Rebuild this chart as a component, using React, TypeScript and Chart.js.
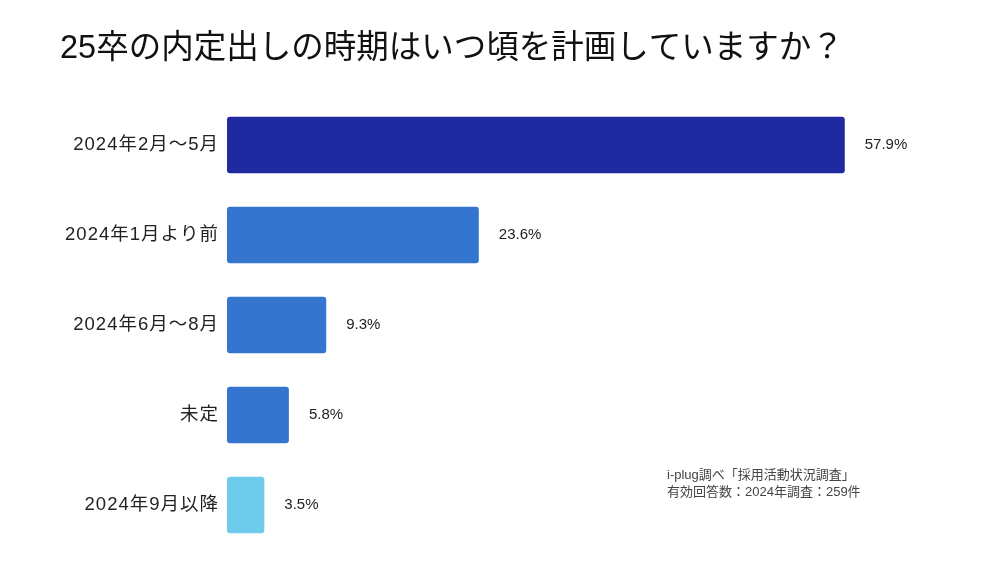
import React, { useEffect, useRef } from "react";
import { Chart, registerables } from "chart.js";

Chart.register(...registerables);

const titleText = "25卒の内定出しの時期はいつ頃を計画していますか？";
const categories = ["2024年2月～5月", "2024年1月より前", "2024年6月～8月", "未定", "2024年9月以降"];
const values = [57.9, 23.6, 9.3, 5.8, 3.5];
const barColors = ["#1F2AA0", "#3375CF", "#3375CF", "#3375CF", "#6FCBEB"];
const noteLines = ["i-plug調べ「採用活動状況調査」", "有効回答数：2024年調査：259件"];

const FONT = '"Liberation Sans", Arial, "Noto Sans CJK JP", sans-serif';

export default function App() {
  const ref = useRef<HTMLCanvasElement | null>(null);
  useEffect(() => {
    if (!ref.current) return;
    const textPlugin = {
      id: "texts",
      beforeDraw(chart: any) {
        chart.ctx.letterSpacing = "1px";
      },
      beforeDatasetsDraw(chart: any) {
        chart.ctx.letterSpacing = "0px";
      },
      afterDatasetsDraw(chart: any) {
        const ctx = chart.ctx;
        const meta = chart.getDatasetMeta(0);
        ctx.save();
        ctx.letterSpacing = "0px";
        ctx.fillStyle = "#222";
        ctx.font = `15px ${FONT}`;
        ctx.textAlign = "left";
        ctx.textBaseline = "middle";
        meta.data.forEach((bar: any, i: number) => {
          ctx.fillText(values[i].toFixed(1) + "%", bar.x + 20, bar.y);
        });
        ctx.fillStyle = "#111";
        ctx.font = `32.5px ${FONT}`;
        ctx.fillText(titleText, 60, 49);
        ctx.fillStyle = "#444";
        ctx.font = `13px ${FONT}`;
        noteLines.forEach((t, i) => ctx.fillText(t, 667, 475 + i * 17));
        ctx.restore();
      },
    };
    const chart = new Chart(ref.current, {
      type: "bar",
      data: {
        labels: categories,
        datasets: [
          {
            data: values,
            backgroundColor: barColors,
            borderRadius: 3,
            borderSkipped: false,
            barPercentage: 0.63,
            categoryPercentage: 1,
          },
        ],
      },
      options: {
        indexAxis: "y",
        responsive: false,
        maintainAspectRatio: false,
        animation: false,
        devicePixelRatio: 1,
        layout: { padding: { top: 100, bottom: 35, left: 0, right: 40 } },
        plugins: { legend: { display: false }, tooltip: { enabled: false }, title: { display: false } },
        scales: {
          x: { display: false, min: 0, max: 68.7 },
          y: {
            grid: { display: false, drawTicks: false },
            border: { display: false },
            ticks: { font: { size: 18.5, family: FONT }, color: "#222", padding: 8 },
            afterFit: (s: any) => {
              s.width = 227;
            },
          },
        },
      },
      plugins: [textPlugin],
    } as any);
    return () => chart.destroy();
  }, []);
  return (
    <div style={{ position: "fixed", left: 0, top: 0, width: 1000, height: 585, background: "#fff" }}>
      <canvas ref={ref} width={1000} height={585} style={{ width: 1000, height: 585 }} />
    </div>
  );
}
